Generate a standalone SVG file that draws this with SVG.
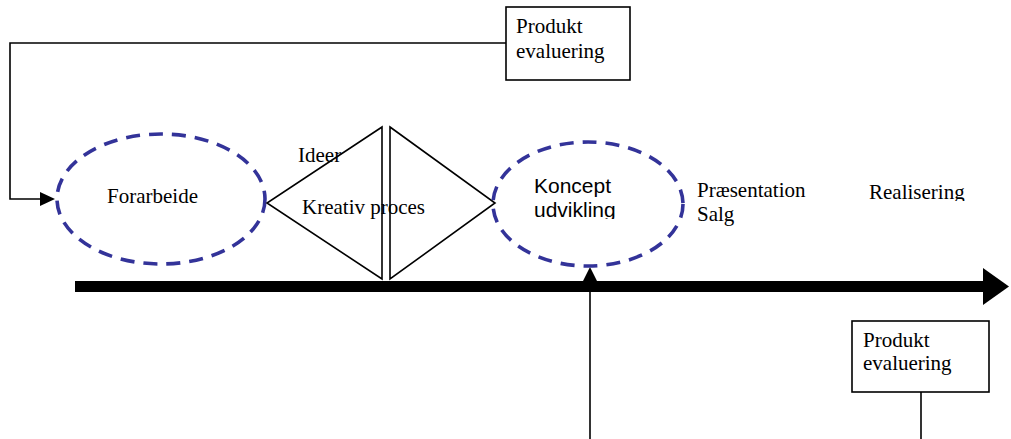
<svg xmlns="http://www.w3.org/2000/svg" width="1011" height="439" viewBox="0 0 1011 439">
  <style>
    .serif { font-family: "Liberation Serif", "Times New Roman", serif; font-size: 21px; fill: #000; }
    .sans { font-family: "Liberation Sans", Arial, sans-serif; font-size: 21px; fill: #000; }
    .box { fill: #fff; stroke: #000; stroke-width: 1.6; }
    .line { fill: none; stroke: #000; stroke-width: 1.6; }
    .phase { fill: none; stroke: #333399; stroke-width: 3.6; stroke-dasharray: 14 9; }
    .tri { fill: none; stroke: #000; stroke-width: 1.6; stroke-linejoin: miter; }
  </style>
  <defs>
    <clipPath id="clipForarbeide"><rect x="100" y="180" width="110" height="25"/></clipPath>
    <clipPath id="clipKoncept"><rect x="520" y="170" width="110" height="49"/></clipPath>
    <clipPath id="clipRealisering"><rect x="860" y="180" width="110" height="21"/></clipPath>
  </defs>

  <rect width="1011" height="439" fill="#fff"/>

  <!-- connectors -->
  <g id="connectors">
    <!-- feedback loop from the top evaluation back to the start -->
    <path class="line" d="M506,43 H10 V199 H40"/>
    <path d="M40,192 L55,199 L40,206 z" fill="#000"/>
    <!-- vertical line rising to the timeline -->
    <line class="line" x1="590" y1="439" x2="590" y2="280"/>
    <path d="M583,281 L590,267 L597,281 z" fill="#000"/>
    <!-- line below the lower evaluation box -->
    <line class="line" x1="921" y1="392" x2="921" y2="439"/>
  </g>

  <!-- main timeline arrow -->
  <g id="timeline">
    <rect x="75" y="281" width="910" height="11" fill="#000"/>
    <path d="M983,268 L1009,286.5 L983,305 z" fill="#000"/>
  </g>

  <g id="evaluering-top">
    <rect class="box" x="506" y="7" width="124" height="73"/>
    <text class="serif" x="516" y="33">Produkt</text>
    <text class="serif" x="516" y="58">evaluering</text>
  </g>

  <g id="forarbeide">
    <ellipse class="phase" cx="161" cy="199" rx="104" ry="65"/>
    <text class="serif" x="107" y="203" clip-path="url(#clipForarbeide)">Forarbeide</text>
  </g>

  <g id="kreativ-proces">
    <path class="tri" d="M382,127 L267,203 L382,279 Z"/>
    <path class="tri" d="M390,127 L495,203 L390,279 Z"/>
    <text class="serif" x="298" y="162">Ideer</text>
    <text class="serif" x="302" y="214">Kreativ proces</text>
  </g>

  <g id="koncept">
    <ellipse class="phase" cx="588" cy="204" rx="95" ry="62"/>
    <g clip-path="url(#clipKoncept)">
      <text class="sans" x="534" y="193">Koncept</text>
      <text class="sans" x="534" y="217">udvikling</text>
    </g>
  </g>

  <g id="praesentation">
    <text class="serif" x="697" y="197">Præsentation</text>
    <text class="serif" x="697" y="221">Salg</text>
  </g>

  <g id="realisering">
    <text class="serif" x="869" y="199" clip-path="url(#clipRealisering)">Realisering</text>
  </g>

  <g id="evaluering-bottom">
    <rect class="box" x="852" y="321" width="137" height="71"/>
    <text class="serif" x="863" y="347">Produkt</text>
    <text class="serif" x="863" y="370">evaluering</text>
  </g>
</svg>
